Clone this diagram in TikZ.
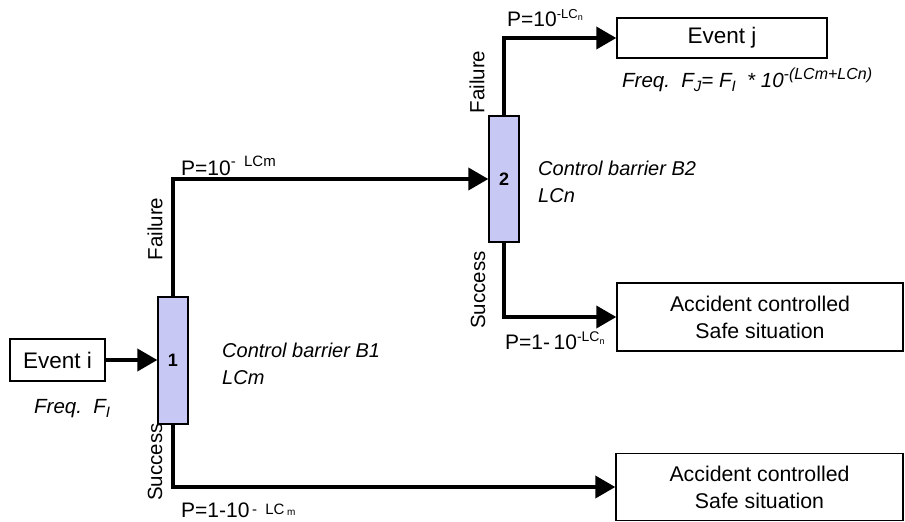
\documentclass[tikz,border=0pt]{standalone}
\usepackage{fontspec}
\setmainfont{Liberation Sans}
\usetikzlibrary{arrows.meta}
\definecolor{barrierfill}{RGB}{200,200,245}
\newcommand\supx[2][14]{\raisebox{0.75ex}{\fontsize{#1}{#1}\selectfont #2}}
\newcommand\subx[2][10]{\raisebox{-0.35ex}{\fontsize{#1}{#1}\selectfont #2}}
\begin{document}
\begin{tikzpicture}[x=1pt,y=-1pt,
  every node/.style={font=\fontsize{21}{24}\selectfont, inner sep=0pt},
  evbox/.style={draw, line width=1.4pt, fill=white, align=center},
  barrier/.style={draw, line width=1.3pt, fill=barrierfill, minimum width=30, font=\fontsize{18}{18}\selectfont\bfseries},
  conn/.style={line width=3.8pt, -{Triangle[length=20pt,width=22pt]}},
  rotlab/.style={rotate=90, font=\fontsize{20.5}{20}\selectfont},
  plab/.style={anchor=west, font=\fontsize{21}{21}\selectfont},
  itlab/.style={anchor=west, align=left, font=\fontsize{20}{26.5}\selectfont\itshape}
]
\useasboundingbox (0,0) rectangle (905,522);
% boxes
\node[evbox, minimum width=95, minimum height=42, font=\fontsize{22.5}{24}\selectfont] (ei) at (57.5,360) {Event i};
\node[barrier, minimum height=127] (b1) at (173,360.5) {1};
\node[barrier, minimum height=126] (b2) at (504,179) {2};
\node[evbox, minimum width=210, minimum height=40, font=\fontsize{22.5}{24}\selectfont] (ej) at (722,38) {Event j};
\node[evbox, minimum width=286, minimum height=68, font=\fontsize{21.3}{27}\selectfont] (s2) at (760,317) {Accident controlled\\Safe situation};
\node[evbox, minimum width=287, minimum height=67, font=\fontsize{21.3}{27}\selectfont] (s1) at (759.5,487) {Accident controlled\\Safe situation};
% connectors
\draw[conn] (ei.east) -- (ei.east -| b1.west);
\draw[conn] (b1.north) |- (b2.west);
\draw[conn] (b1.south) |- (s1.west);
\draw[conn] (b2.north) |- (ej.west);
\draw[conn] (b2.south) |- (s2.west);
% labels
\node[rotlab] (f1) at (155,229) {Failure};
\node[rotlab] (sc1) at (155,462) {Success};
\node[rotlab] (f2) at (477,82) {Failure};
\node[rotlab] (sc2) at (478,290) {Success};
\node[plab] (p1) at (181,166) {P=10\supx[15]{-\ \ LCm}};
\node[plab] (p2) at (181,510) {P=1-10\raisebox{3pt}{\fontsize{15}{15}\selectfont\,-\ \ LC\,\raisebox{-1.5pt}{\fontsize{10}{10}\selectfont m}}};
\node[plab] (p3) at (507,18) {P=10\supx[13]{-LC\subx[9]{n}}};
\node[plab] (p4) at (505,341) {P=1-\,10\supx[14]{-LC\subx[9]{n}}};
\node[itlab] (c1) at (222,364) {Control barrier B1\\LCm};
\node[itlab] (c2) at (538,182) {Control barrier B2\\LCn};
\node[itlab, font=\fontsize{20.5}{20}\selectfont\itshape] (fi) at (34,409) {Freq.\ \ F\subx[15]{I}};
\node[itlab, font=\fontsize{20.5}{20}\selectfont\itshape] (fj) at (622,80) {Freq.\ \ F\subx[15]{J}= F\subx[15]{I}\ \ * 10\supx[16]{\itshape -(LCm+LCn)}};
\end{tikzpicture}
\end{document}
